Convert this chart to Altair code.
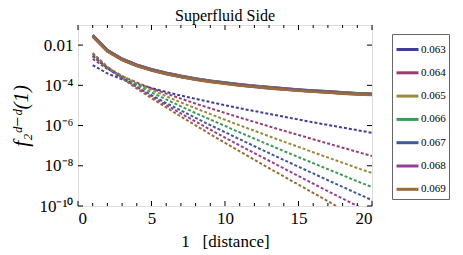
import altair as alt
import pandas as pd

# distance values
l_vals = list(range(1, 21))
series = ["0.063", "0.064", "0.065", "0.066", "0.067", "0.068", "0.069"]
colors = ["#3F3D99", "#993D71", "#998B3D", "#3D9956", "#3D5A99", "#993D90", "#996C3D"]

# log10 of f (solid curves nearly coincide)
solid_log = [-1.57, -2.31, -2.74, -3.04, -3.26, -3.44, -3.59, -3.72, -3.83, -3.92,
             -4.01, -4.08, -4.15, -4.21, -4.27, -4.32, -4.36, -4.41, -4.45, -4.48]
solid_shift = [0.06, 0.05, 0.04, 0.03, 0.02, 0.01, 0.0]

dashed_063 = [-2.99, -3.41, -3.70, -3.94, -4.14, -4.33, -4.51, -4.67, -4.83, -4.99,
              -5.14, -5.28, -5.42, -5.56, -5.70, -5.84, -5.97, -6.10, -6.23, -6.36]
dashed_064 = [-2.69, -3.18, -3.55, -3.86, -4.15, -4.41, -4.66, -4.91, -5.14, -5.37,
              -5.60, -5.82, -6.04, -6.26, -6.47, -6.68, -6.89, -7.10, -7.31, -7.51]
dashed_065 = [-2.56, -3.11, -3.53, -3.89, -4.23, -4.54, -4.85, -5.14, -5.43, -5.71,
              -5.99, -6.26, -6.53, -6.80, -7.06, -7.33, -7.59, -7.85, -8.11, -8.36]
dashed_066 = [-2.53, -3.12, -3.57, -3.98, -4.35, -4.70, -5.05, -5.38, -5.70, -6.02,
              -6.34, -6.65, -6.96, -7.27, -7.57, -7.87, -8.17, -8.47, -8.77, -9.06]
dashed_067 = [-2.53, -3.16, -3.65, -4.08, -4.49, -4.88, -5.25, -5.62, -5.98, -6.33,
              -6.68, -7.03, -7.37, -7.71, -8.05, -8.38, -8.72, -9.05, -9.38, -9.71]
dashed_068 = [-2.44, -3.10, -3.63, -4.10, -4.55, -4.98, -5.40, -5.80, -6.20, -6.60,
              -6.99, -7.37, -7.75, -8.13, -8.51, -8.89, -9.26, -9.63, -10.00, -10.37]
dashed_069 = [-2.39, -3.08, -3.65, -4.16, -4.64, -5.10, -5.55, -5.99, -6.43, -6.86,
              -7.28, -7.70, -8.12, -8.53, -8.94, -9.35, -9.76, -10.17, -10.57, -10.98]
dashed_all = [dashed_063, dashed_064, dashed_065, dashed_066, dashed_067, dashed_068, dashed_069]

x_major = [0, 5, 10, 15, 20]
x_minor = [1, 2, 3, 4, 6, 7, 8, 9, 11, 12, 13, 14, 16, 17, 18, 19]
y_ticks = [1e-10, 1e-8, 1e-6, 1e-4, 1e-2]
y_tick_labels = ["10⁻¹⁰", "10⁻⁸", "10⁻⁶", "10⁻⁴", "0.01"]

solid_rows, dashed_rows = [], []
for i, s in enumerate(series):
    for l, v in zip(l_vals, solid_log):
        solid_rows.append({"l": l, "f": 10 ** (v + solid_shift[i]), "series": s})
    for l, v in zip(l_vals, dashed_all[i]):
        dashed_rows.append({"l": l, "f": 10 ** v, "series": s})
solid_df = pd.DataFrame(solid_rows)
dashed_df = pd.DataFrame(dashed_rows)

FONT = "Liberation Serif"
W, H = 294, 181

label_expr = " : ".join(
    f"datum.value < {v * 3} ? '{t}'" for v, t in zip(y_ticks[:-1], y_tick_labels[:-1])
) + f" : '{y_tick_labels[-1]}'"

xscale = alt.Scale(domain=[0, 20], nice=False, zero=False)
yscale = alt.Scale(type="log", domain=[1e-10, 0.1], nice=False)
cscale = alt.Scale(domain=series, range=colors)

x_enc = alt.X("l:Q", scale=xscale,
              axis=alt.Axis(values=x_major, format="d", tickSize=0, domain=False, grid=False,
                            labelFont=FONT, labelFontSize=17, labelPadding=4, labelColor="#000",
                            title="1\u00a0\u00a0\u00a0[distance]", titleFont=FONT,
                            titleFontSize=17, titleFontWeight="normal", titlePadding=7,
                            titleColor="#000"))
y_enc = alt.Y("f:Q", scale=yscale,
              axis=alt.Axis(values=y_ticks, labelExpr=label_expr, tickSize=0, domain=False,
                            grid=False, labelFont=FONT, labelFontSize=17, labelPadding=5,
                            labelColor="#000",
                            title="f₂ᵈ⁻ᵈ(1)", titleFont="Liberation Serif, DejaVu Serif",
                            titleFontSize=21,
                            titleFontStyle="italic", titleFontWeight="normal",
                            titlePadding=7, titleColor="#000"))

legend = alt.Legend(title=None, orient="none", legendX=314, legendY=9,
                    symbolType="stroke", symbolSize=484,
                    symbolStrokeWidth=3, labelFont=FONT, labelFontSize=11,
                    labelColor="#000", labelOffset=1, rowPadding=4.3,
                    labelExpr="datum.label + '\u2003\u2009'",
                    padding=3, strokeColor="#666", fillColor="white")

dashed = alt.Chart(dashed_df).mark_line(clip=True, strokeWidth=2, strokeDash=[3, 2]).encode(
    x=x_enc, y=y_enc,
    color=alt.Color("series:N", scale=cscale, legend=legend),
)
solid = alt.Chart(solid_df).mark_line(clip=True, strokeWidth=2.6).encode(
    x=x_enc, y=y_enc,
    color=alt.Color("series:N", scale=cscale, legend=legend),
)

xmaj = pd.DataFrame({"l": x_major})
xmin = pd.DataFrame({"l": x_minor})
ytk = pd.DataFrame({"f": y_ticks})

def xticks(df, length):
    bottom = alt.Chart(df).mark_rule(color="#000", strokeWidth=1).encode(
        x=alt.X("l:Q", scale=xscale), y=alt.value(H), y2=alt.value(H - length))
    top = alt.Chart(df).mark_rule(color="#000", strokeWidth=1).encode(
        x=alt.X("l:Q", scale=xscale), y=alt.value(0), y2=alt.value(length))
    return [bottom, top]

yl = alt.Chart(ytk).mark_rule(color="#000", strokeWidth=1).encode(
    y=alt.Y("f:Q", scale=yscale), x=alt.value(0), x2=alt.value(5))
yr = alt.Chart(ytk).mark_rule(color="#000", strokeWidth=1).encode(
    y=alt.Y("f:Q", scale=yscale), x=alt.value(W), x2=alt.value(W - 5))

chart = alt.layer(dashed, solid, *xticks(xmaj, 5), *xticks(xmin, 3), yl, yr).properties(
    width=W, height=H,
    title=alt.TitleParams("Superfluid Side", font=FONT, fontSize=16, fontWeight="normal",
                          color="#000", anchor="middle", offset=1),
    autosize=alt.AutoSizeParams(type="none"),
    padding={"left": 70, "top": 17, "right": 80, "bottom": 45},
).configure_view(stroke="#000", strokeWidth=2).configure(background="white")

chart.save("out.html", embed_options={"renderer": "svg", "actions": False})
